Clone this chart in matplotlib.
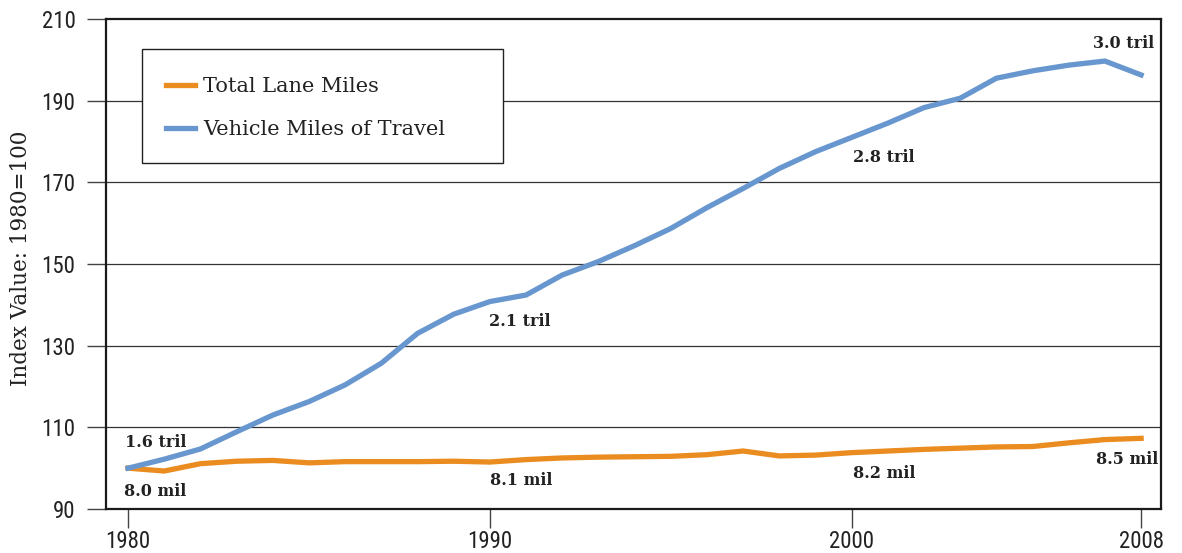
import matplotlib
matplotlib.use("Agg")
import matplotlib.pyplot as plt
from matplotlib import font_manager
from matplotlib.patches import Rectangle

years = list(range(1980, 2009))
vmt = [100.0, 102.2, 104.7, 108.9, 113.0, 116.3, 120.4, 125.7, 133.0, 137.7,
       140.8, 142.4, 147.3, 150.6, 154.5, 158.7, 163.8, 168.5, 173.4, 177.5,
       181.0, 184.5, 188.3, 190.6, 195.5, 197.3, 198.7, 199.7, 196.3]
lane = [100.0, 99.3, 101.1, 101.7, 101.9, 101.3, 101.6, 101.6, 101.6, 101.7,
        101.5, 102.1, 102.5, 102.7, 102.8, 102.9, 103.3, 104.2, 103.0, 103.2,
        103.8, 104.2, 104.6, 104.9, 105.2, 105.3, 106.2, 107.0, 107.3]
series_names = ["Total Lane Miles", "Vehicle Miles of Travel"]
yticks = [90, 110, 130, 150, 170, 190, 210]
xticks = [1980, 1990, 2000, 2008]
ann_text = ["1.6 tril", "8.0 mil", "2.1 tril", "8.1 mil", "2.8 tril", "8.2 mil", "3.0 tril", "8.5 mil"]
ann_x = [1979.92, 1979.9, 1989.98, 1990.0, 2000.05, 2000.05, 2006.67, 2008.47]
ann_y = [106.4, 94.4, 135.8, 96.9, 176.0, 98.6, 204.1, 102.2]
ann_ha = ["left", "left", "left", "left", "left", "left", "left", "right"]

avail = {f.name for f in font_manager.fontManager.ttflist}
tick_font = "Liberation Sans"
for cand in ["Liberation Sans Narrow", "Roboto Condensed", "Open Sans Condensed"]:
    if cand in avail:
        tick_font = cand
        break
serif_font = "DejaVu Serif"

orange = "#EA8C1F"
blue = "#6897CF"

fig = plt.figure(figsize=(11.82, 5.53), dpi=100)
ax = fig.add_axes([106/1182, 44/553, 1055/1182, 490/553])

ax.plot(years, lane, color=orange, lw=3.8, solid_joinstyle="miter", label=series_names[0], zorder=3)
ax.plot(years, vmt, color=blue, lw=3.8, solid_joinstyle="miter", label=series_names[1], zorder=3)

ax.set_xlim(1979.39, 2008.55)
ax.set_ylim(90, 210)
ax.set_yticks(yticks)
ax.set_xticks(xticks)
for y in yticks[1:-1]:
    ax.axhline(y, color="#333333", lw=0.9, zorder=1)

for s in ax.spines.values():
    s.set_linewidth(1.6)
    s.set_color("#1a1a1a")

ax.tick_params(axis="both", direction="out", length=14, width=1.0, color="#444444",
               labelsize=16.5, labelcolor="#222222")
ax.tick_params(axis="x", pad=1)
ax.tick_params(axis="y", pad=8)
for lab in ax.get_xticklabels() + ax.get_yticklabels():
    lab.set_fontfamily(tick_font)

ax.set_ylabel("Index Value: 1980=100", fontfamily=serif_font, fontsize=15.5, color="#222222")
ax.yaxis.set_label_coords(-0.0701, 0.512)

for t, x, y, ha in zip(ann_text, ann_x, ann_y, ann_ha):
    ax.text(x, y, t, ha=ha, va="center", fontfamily=serif_font, fontweight="bold",
            fontsize=11.5, color="#222222", zorder=4)

# legend box
ax.add_patch(Rectangle((36/1055, (509-163)/490), 361/1055, 114/490, transform=ax.transAxes,
                       facecolor="white", edgecolor="#222222", lw=1.0, zorder=5))
leg = ax.legend(loc="upper left", bbox_to_anchor=(60/1055, (509-77)/490), frameon=False,
                prop={"family": serif_font, "size": 15}, handlelength=1.4, handletextpad=0.38,
                labelspacing=1.17, borderaxespad=0, borderpad=0)
leg.set_zorder(6)
for t in leg.get_texts():
    t.set_color("#222222")

fig.savefig("out.png", dpi=100)
